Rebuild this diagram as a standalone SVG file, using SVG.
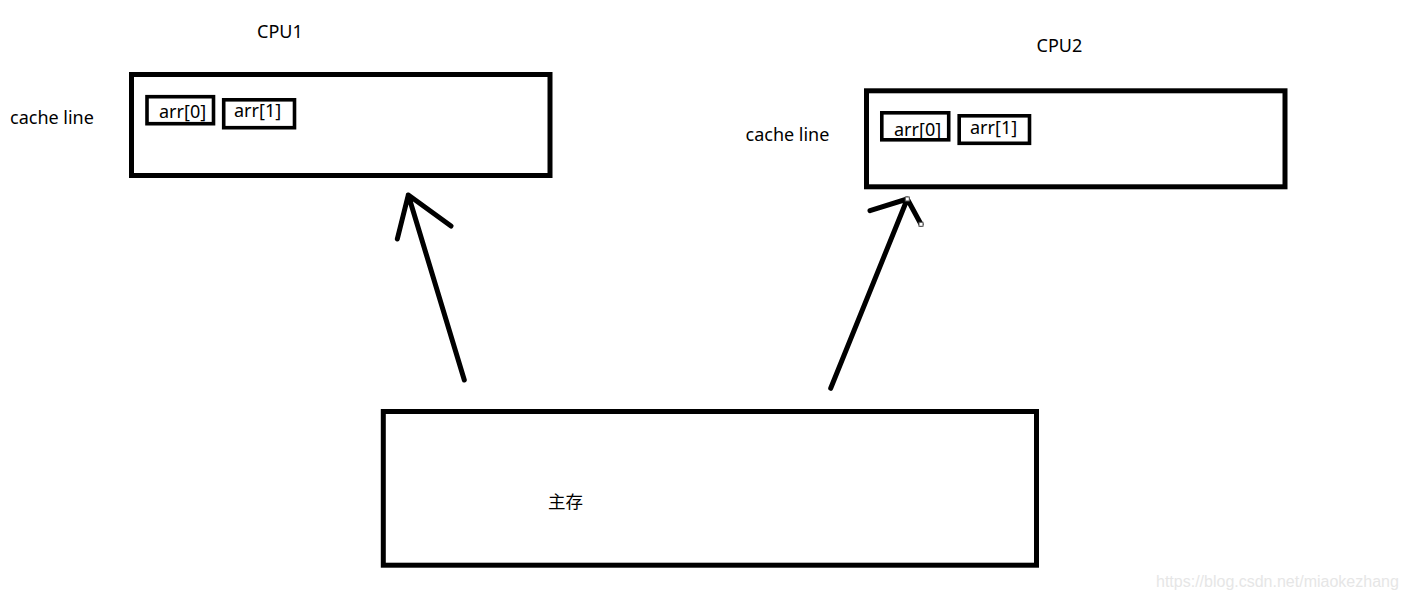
<svg xmlns="http://www.w3.org/2000/svg" width="1405" height="598" viewBox="0 0 1405 598">
<style>
.box{fill:none;stroke:#000;stroke-width:5}
.cell{fill:none;stroke:#000;stroke-width:3.6}
.t{font-family:"Noto Sans","Open Sans",sans-serif;font-size:18px;fill:#000}
.cjk{font-family:"Noto Sans CJK SC",sans-serif;font-size:17.5px;fill:#000}
.arrow{fill:none;stroke:#000;stroke-width:5;stroke-linecap:round;stroke-linejoin:round}
.handle{fill:#fff;stroke:#555;stroke-width:1}
.wm{font-family:"Liberation Sans",Arial,sans-serif;font-size:16px;fill:#e6e6e6}
</style>
<rect width="1405" height="598" fill="#fff"/>
<g id="cpu1">
<text class="t" x="257" y="38">CPU1</text>
<text class="t" x="10" y="123.5">cache line</text>
<rect class="box" x="131.5" y="74.5" width="418.5" height="101"/>
<g id="cpu1-arr0"><rect class="cell" x="147" y="96.7" width="66.5" height="27"/><text class="t" x="159" y="117.5">arr[0]</text></g>
<g id="cpu1-arr1"><rect class="cell" x="223.7" y="99.8" width="70.8" height="27.9"/><text class="t" x="234" y="116.5">arr[1]</text></g>
</g>
<g id="cpu2">
<text class="t" x="1036.5" y="52">CPU2</text>
<text class="t" x="745.5" y="140.5">cache line</text>
<rect class="box" x="866.5" y="90.8" width="418.5" height="96"/>
<g id="cpu2-arr0"><rect class="cell" x="881.8" y="112.8" width="66.9" height="27"/><text class="t" x="894" y="136">arr[0]</text></g>
<g id="cpu2-arr1"><rect class="cell" x="959.2" y="115.8" width="70.3" height="27.5"/><text class="t" x="970" y="133.5">arr[1]</text></g>
</g>
<g id="memory">
<rect class="box" x="383.3" y="411.5" width="653.2" height="153.7"/>
<text class="cjk" x="548" y="508">主存</text>
</g>
<g id="connectors">
<path class="arrow" d="M464.3,380 L408.3,195 M397.3,239 L408.3,195 L451,226"/>
<path class="arrow" d="M830.7,388.3 L907.3,199 M870,210.7 L907.3,199 L921,224.3"/>
<rect class="handle" x="905.3" y="197" width="4" height="4"/>
<rect class="handle" x="919" y="222.3" width="4" height="4"/>
</g>
<text class="wm" x="1156" y="586.5">https://blog.csdn.net/miaokezhang</text>
</svg>
